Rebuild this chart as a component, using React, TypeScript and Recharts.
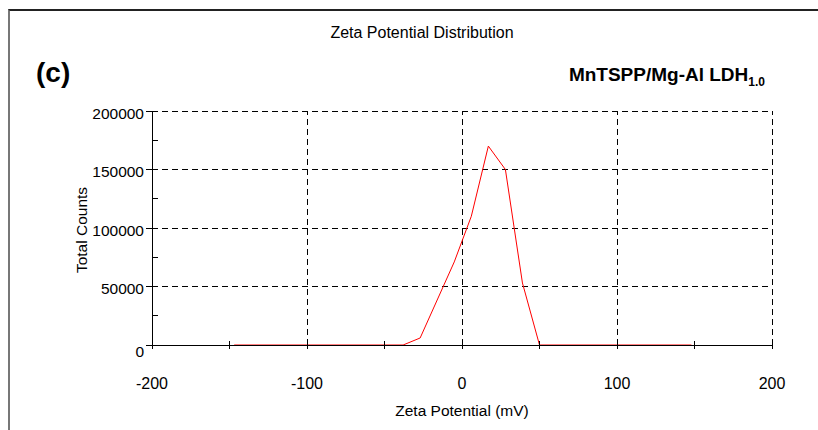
import { LineChart, Line, XAxis, YAxis, ReferenceLine } from 'recharts';

const ZETA_MV = [-147, -38, -27, -5, 6, 17, 28, 39, 50, 60, 148];
const TOTAL_COUNTS = [0, 0, 6000, 71000, 110000, 170000, 150000, 53000, 0, 0, 0];

const X_TICKS = [-200, -150, -100, -50, 0, 50, 100, 150, 200];
const Y_TICKS = [0, 25000, 50000, 75000, 100000, 125000, 150000, 175000, 200000];
const X_GRID = [-100, 0, 100, 200];
const Y_GRID = [50000, 100000, 150000, 200000];

const data = ZETA_MV.map((mv, i) => ({ mv, counts: TOTAL_COUNTS[i] }));

const FONT = '"Liberation Sans", Arial, sans-serif';

function XTick({ x, y, payload }: { x?: number; y?: number; payload?: { value: number } }) {
  const v = payload?.value ?? 0;
  return (
    <g>
      <line x1={x} x2={x} y1={(y ?? 0) - 4} y2={(y ?? 0) + 4} stroke="#000" shapeRendering="crispEdges" />
      {v % 100 === 0 && (
        <text x={x} y={(y ?? 0) + 38} textAnchor="middle" dominantBaseline="central" fontSize={16} fontFamily={FONT} fill="#000">
          {v}
        </text>
      )}
    </g>
  );
}

function YTick({ x, y, payload }: { x?: number; y?: number; payload?: { value: number } }) {
  const v = payload?.value ?? 0;
  const major = v % 50000 === 0;
  const xx = x ?? 0;
  const yy = y ?? 0;
  return (
    <g>
      {major
        ? <line x1={xx - 6} x2={xx} y1={yy} y2={yy} stroke="#000" shapeRendering="crispEdges" />
        : <line x1={xx} x2={xx + 6} y1={yy} y2={yy} stroke="#000" shapeRendering="crispEdges" />}
      {major && (
        <text x={xx - 8} y={yy + (v === 0 ? 6 : 2)} textAnchor="end" dominantBaseline="central" fontSize={15.5} fontFamily={FONT} fill="#000">
          {v}
        </text>
      )}
    </g>
  );
}

export default function App() {
  return (
    <div style={{ position: 'absolute', left: 0, top: 0, width: 818, height: 430, background: '#fff', fontFamily: FONT, overflow: 'hidden' }}>
      <div style={{ position: 'absolute', left: 8, top: 9, width: 810, height: 421, borderTop: '2px solid #222', borderLeft: '2px solid #777' }} />
      <div style={{ position: 'absolute', left: 0, width: 844, top: 24, textAlign: 'center', fontSize: 16, lineHeight: '18px' }}>
        Zeta Potential Distribution
      </div>
      <div style={{ position: 'absolute', left: 36, top: 57, fontSize: 28, fontWeight: 'bold', lineHeight: '32px' }}>(c)</div>
      <div style={{ position: 'absolute', right: 53, top: 64, fontSize: 19, fontWeight: 'bold', lineHeight: '22px' }}>
        MnTSPP/Mg-Al LDH<sub style={{ fontSize: 12 }}>1.0</sub>
      </div>
      <div style={{ position: 'absolute', left: 82, top: 230, transform: 'translate(-50%, -50%) rotate(-90deg)', fontSize: 15.5, whiteSpace: 'nowrap' }}>
        Total Counts
      </div>
      <div style={{ position: 'absolute', left: 0, width: 924, top: 402, textAlign: 'center', fontSize: 15.5, lineHeight: '18px' }}>
        Zeta Potential (mV)
      </div>
      <div style={{ position: 'absolute', left: 0, top: 0 }}>
        <LineChart width={818} height={430} data={data} margin={{ top: 111, right: 46, bottom: 0, left: 72 }}>
          {X_GRID.map((v) => (
            <ReferenceLine key={`x${v}`} x={v} stroke="#000" strokeDasharray="6 4" shapeRendering="crispEdges" ifOverflow="extendDomain" />
          ))}
          {Y_GRID.map((v) => (
            <ReferenceLine key={`y${v}`} y={v} stroke="#000" strokeDasharray="6 4" shapeRendering="crispEdges" ifOverflow="extendDomain" />
          ))}
          <XAxis
            type="number"
            dataKey="mv"
            domain={[-200, 200]}
            ticks={X_TICKS}
            interval={0}
            height={85}
            tickLine={false}
            tickSize={0}
            tickMargin={0}
            tick={<XTick />}
            axisLine={{ stroke: '#000', shapeRendering: 'crispEdges' }}
          />
          <YAxis
            type="number"
            domain={[0, 200000]}
            ticks={Y_TICKS}
            interval={0}
            width={80}
            tickLine={false}
            tickSize={0}
            tickMargin={0}
            tick={<YTick />}
            axisLine={{ stroke: '#000', shapeRendering: 'crispEdges' }}
          />
          <Line
            type="linear"
            dataKey="counts"
            stroke="#ff0000"
            strokeWidth={1}
            dot={false}
            isAnimationActive={false}
          />
        </LineChart>
      </div>
    </div>
  );
}
